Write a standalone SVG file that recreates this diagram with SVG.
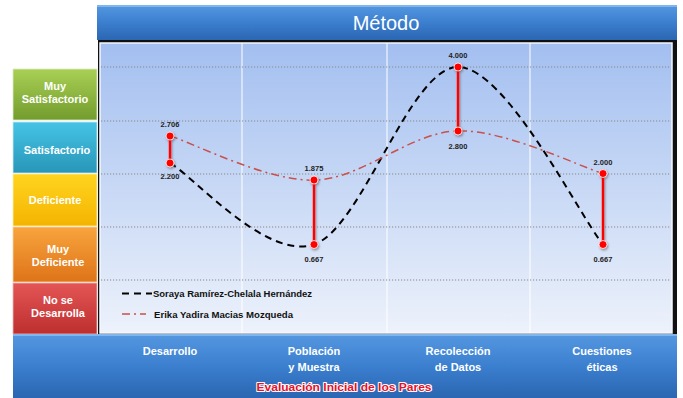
<svg xmlns="http://www.w3.org/2000/svg" width="683" height="398" viewBox="0 0 683 398">
<defs>
<linearGradient id="gBlue" x1="0" y1="0" x2="0" y2="1"><stop offset="0" stop-color="#5597e0"/><stop offset="0.5" stop-color="#3b7fcf"/><stop offset="1" stop-color="#2b66b1"/></linearGradient>
<linearGradient id="gPlot" x1="0" y1="0" x2="0" y2="1"><stop offset="0" stop-color="#a3bff0"/><stop offset="1" stop-color="#edf2fb"/></linearGradient>
<linearGradient id="gGreen" x1="0" y1="0" x2="0" y2="1"><stop offset="0" stop-color="#a9d055"/><stop offset="1" stop-color="#729c2d"/></linearGradient>
<linearGradient id="gTeal" x1="0" y1="0" x2="0" y2="1"><stop offset="0" stop-color="#45c4e6"/><stop offset="1" stop-color="#2896b8"/></linearGradient>
<linearGradient id="gYellow" x1="0" y1="0" x2="0" y2="1"><stop offset="0" stop-color="#ffd420"/><stop offset="1" stop-color="#f4b400"/></linearGradient>
<linearGradient id="gOrange" x1="0" y1="0" x2="0" y2="1"><stop offset="0" stop-color="#f8a43e"/><stop offset="1" stop-color="#de7418"/></linearGradient>
<linearGradient id="gRed" x1="0" y1="0" x2="0" y2="1"><stop offset="0" stop-color="#e45656"/><stop offset="1" stop-color="#bd2e2e"/></linearGradient>
<filter id="glow" x="-50%" y="-20%" width="200%" height="140%"><feDropShadow dx="1" dy="1.5" stdDeviation="1.2" flood-color="#555" flood-opacity="0.6"/></filter>
</defs>
<style>
.lvl{font-family:"Liberation Sans",Arial,sans-serif;font-weight:bold;font-size:11px;fill:#fff;text-anchor:middle}
.cat{font-family:"Liberation Sans",Arial,sans-serif;font-weight:bold;font-size:11px;fill:#fff;text-anchor:middle}
.val{font-family:"Liberation Sans",Arial,sans-serif;font-weight:bold;font-size:7.5px;fill:#222;text-anchor:middle}
.leg{font-family:"Liberation Sans",Arial,sans-serif;font-weight:bold;font-size:9px;fill:#111}
.grid{stroke:#8a8a8a;stroke-width:1.2;stroke-dasharray:1.2 1.8}
.vline{stroke:#ffffff;stroke-width:1}
.bar{stroke:#ff0000;stroke-width:2.5}
.dot{fill:#ff0000;stroke:#fff;stroke-width:0.8}
.s1{fill:none;stroke:#000;stroke-width:2;stroke-dasharray:7 5}
.s2{fill:none;stroke:#c9504b;stroke-width:1.5;stroke-dasharray:8 4 2 4}
</style>

<g id="title">
<rect x="97" y="5" width="580" height="35" fill="url(#gBlue)"/>
<rect x="97" y="5" width="580" height="2" fill="#8fbdf0" opacity="0.8"/>
<text x="386" y="30" font-family="Liberation Sans,Arial,sans-serif" font-size="20" fill="#fff" text-anchor="middle">Método</text>
</g>

<g id="panel">
<rect x="98" y="40" width="579" height="295" fill="#111"/>
<rect x="100" y="43" width="572" height="290" fill="url(#gPlot)" stroke="#f4f8ff" stroke-width="1.5"/>
</g>

<g id="gridlines">
<line class="vline" x1="242" y1="43" x2="242" y2="333"/>
<line class="vline" x1="387" y1="43" x2="387" y2="333"/>
<line class="vline" x1="530" y1="43" x2="530" y2="333"/>
<line class="grid" x1="101" y1="67" x2="671" y2="67"/>
<line class="grid" x1="101" y1="121" x2="671" y2="121"/>
<line class="grid" x1="101" y1="174" x2="671" y2="174"/>
<line class="grid" x1="101" y1="227" x2="671" y2="227"/>
<line class="grid" x1="101" y1="280" x2="671" y2="280"/>
</g>

<g id="levels">
<g id="lvl-muy-satisfactorio"><rect x="13" y="69" width="84" height="51" fill="url(#gGreen)" stroke="#dfe8c8" stroke-width="0.8"/><text class="lvl" x="55" y="90">Muy</text><text class="lvl" x="55" y="103">Satisfactorio</text></g>
<g id="lvl-satisfactorio"><rect x="13" y="122" width="84" height="51" fill="url(#gTeal)" stroke="#c8e8f2" stroke-width="0.8"/><text class="lvl" x="57" y="154">Satisfactorio</text></g>
<g id="lvl-deficiente"><rect x="13" y="174" width="84" height="52" fill="url(#gYellow)" stroke="#fff0b0" stroke-width="0.8"/><text class="lvl" x="55" y="204">Deficiente</text></g>
<g id="lvl-muy-deficiente"><rect x="13" y="227" width="84" height="55" fill="url(#gOrange)" stroke="#fbd5a8" stroke-width="0.8"/><text class="lvl" x="58" y="253">Muy</text><text class="lvl" x="58" y="266">Deficiente</text></g>
<g id="lvl-no-se-desarrolla"><rect x="13" y="283" width="84" height="51" fill="url(#gRed)" stroke="#f2b8b8" stroke-width="0.8"/><text class="lvl" x="58" y="304">No se</text><text class="lvl" x="58" y="317">Desarrolla</text></g>
</g>

<g id="bottom">
<rect x="13" y="334" width="664" height="64" fill="url(#gBlue)"/>
<rect x="13" y="334" width="664" height="2" fill="#8fbdf0" opacity="0.8"/>
<text class="cat" x="170" y="355">Desarrollo</text>
<text class="cat" x="314" y="355">Población</text><text class="cat" x="314" y="371">y Muestra</text>
<text class="cat" x="458" y="355">Recolección</text><text class="cat" x="458" y="371">de Datos</text>
<text class="cat" x="602" y="355">Cuestiones</text><text class="cat" x="602" y="371">éticas</text>
<text x="344" y="391" font-family="Liberation Sans,Arial,sans-serif" font-weight="bold" font-size="11" fill="#e8102a" stroke="#fff" stroke-width="2" paint-order="stroke" stroke-linejoin="round" text-anchor="middle" textLength="175" lengthAdjust="spacingAndGlyphs">Evaluación Inicial de los Pares</text>
</g>

<g id="connectors">
<path id="series-soraya" class="s1" d="M170,163 C194,176.6 266,260.5 314,244.5 C362,228.5 409.8,67 458,67 C506.2,67 578.8,214.9 603,244.5"/>
<path id="series-erika" class="s2" d="M170,135.9 C194,143.3 266,181 314,180.2 C362,179.4 409.8,132 458,130.9 C506.2,129.8 578.8,166.4 603,173.5"/>
</g>

<g id="hilo" filter="url(#glow)">
<g id="bar-desarrollo"><line class="bar" x1="170" y1="136" x2="170" y2="163"/><circle class="dot" cx="170" cy="136" r="4"/><circle class="dot" cx="170" cy="163" r="4"/></g>
<g id="bar-poblacion"><line class="bar" x1="314" y1="180" x2="314" y2="244.5"/><circle class="dot" cx="314" cy="180" r="4"/><circle class="dot" cx="314" cy="244.5" r="4"/></g>
<g id="bar-recoleccion"><line class="bar" x1="458" y1="67" x2="458" y2="131"/><circle class="dot" cx="458" cy="67" r="4"/><circle class="dot" cx="458" cy="131" r="4"/></g>
<g id="bar-cuestiones"><line class="bar" x1="603" y1="173.5" x2="603" y2="244.5"/><circle class="dot" cx="603" cy="173.5" r="4"/><circle class="dot" cx="603" cy="244.5" r="4"/></g>
</g>

<g id="labels">
<text class="val" x="170" y="127">2.706</text>
<text class="val" x="170" y="179">2.200</text>
<text class="val" x="314" y="171">1.875</text>
<text class="val" x="314" y="262">0.667</text>
<text class="val" x="458" y="58">4.000</text>
<text class="val" x="458" y="149">2.800</text>
<text class="val" x="603" y="164.5">2.000</text>
<text class="val" x="603" y="262">0.667</text>
</g>

<g id="legend">
<line class="s1" x1="122" y1="293.5" x2="152" y2="293.5" stroke-dasharray="6 4"/>
<text class="leg" x="153" y="297" textLength="159" lengthAdjust="spacingAndGlyphs">Soraya Ramírez-Chelala Hernández</text>
<line class="s2" x1="122" y1="314" x2="146" y2="314" stroke-width="2" stroke-dasharray="7 5 2 5"/>
<text class="leg" x="154" y="318" textLength="139" lengthAdjust="spacingAndGlyphs">Erika Yadira Macias Mozqueda</text>
</g>
</svg>
